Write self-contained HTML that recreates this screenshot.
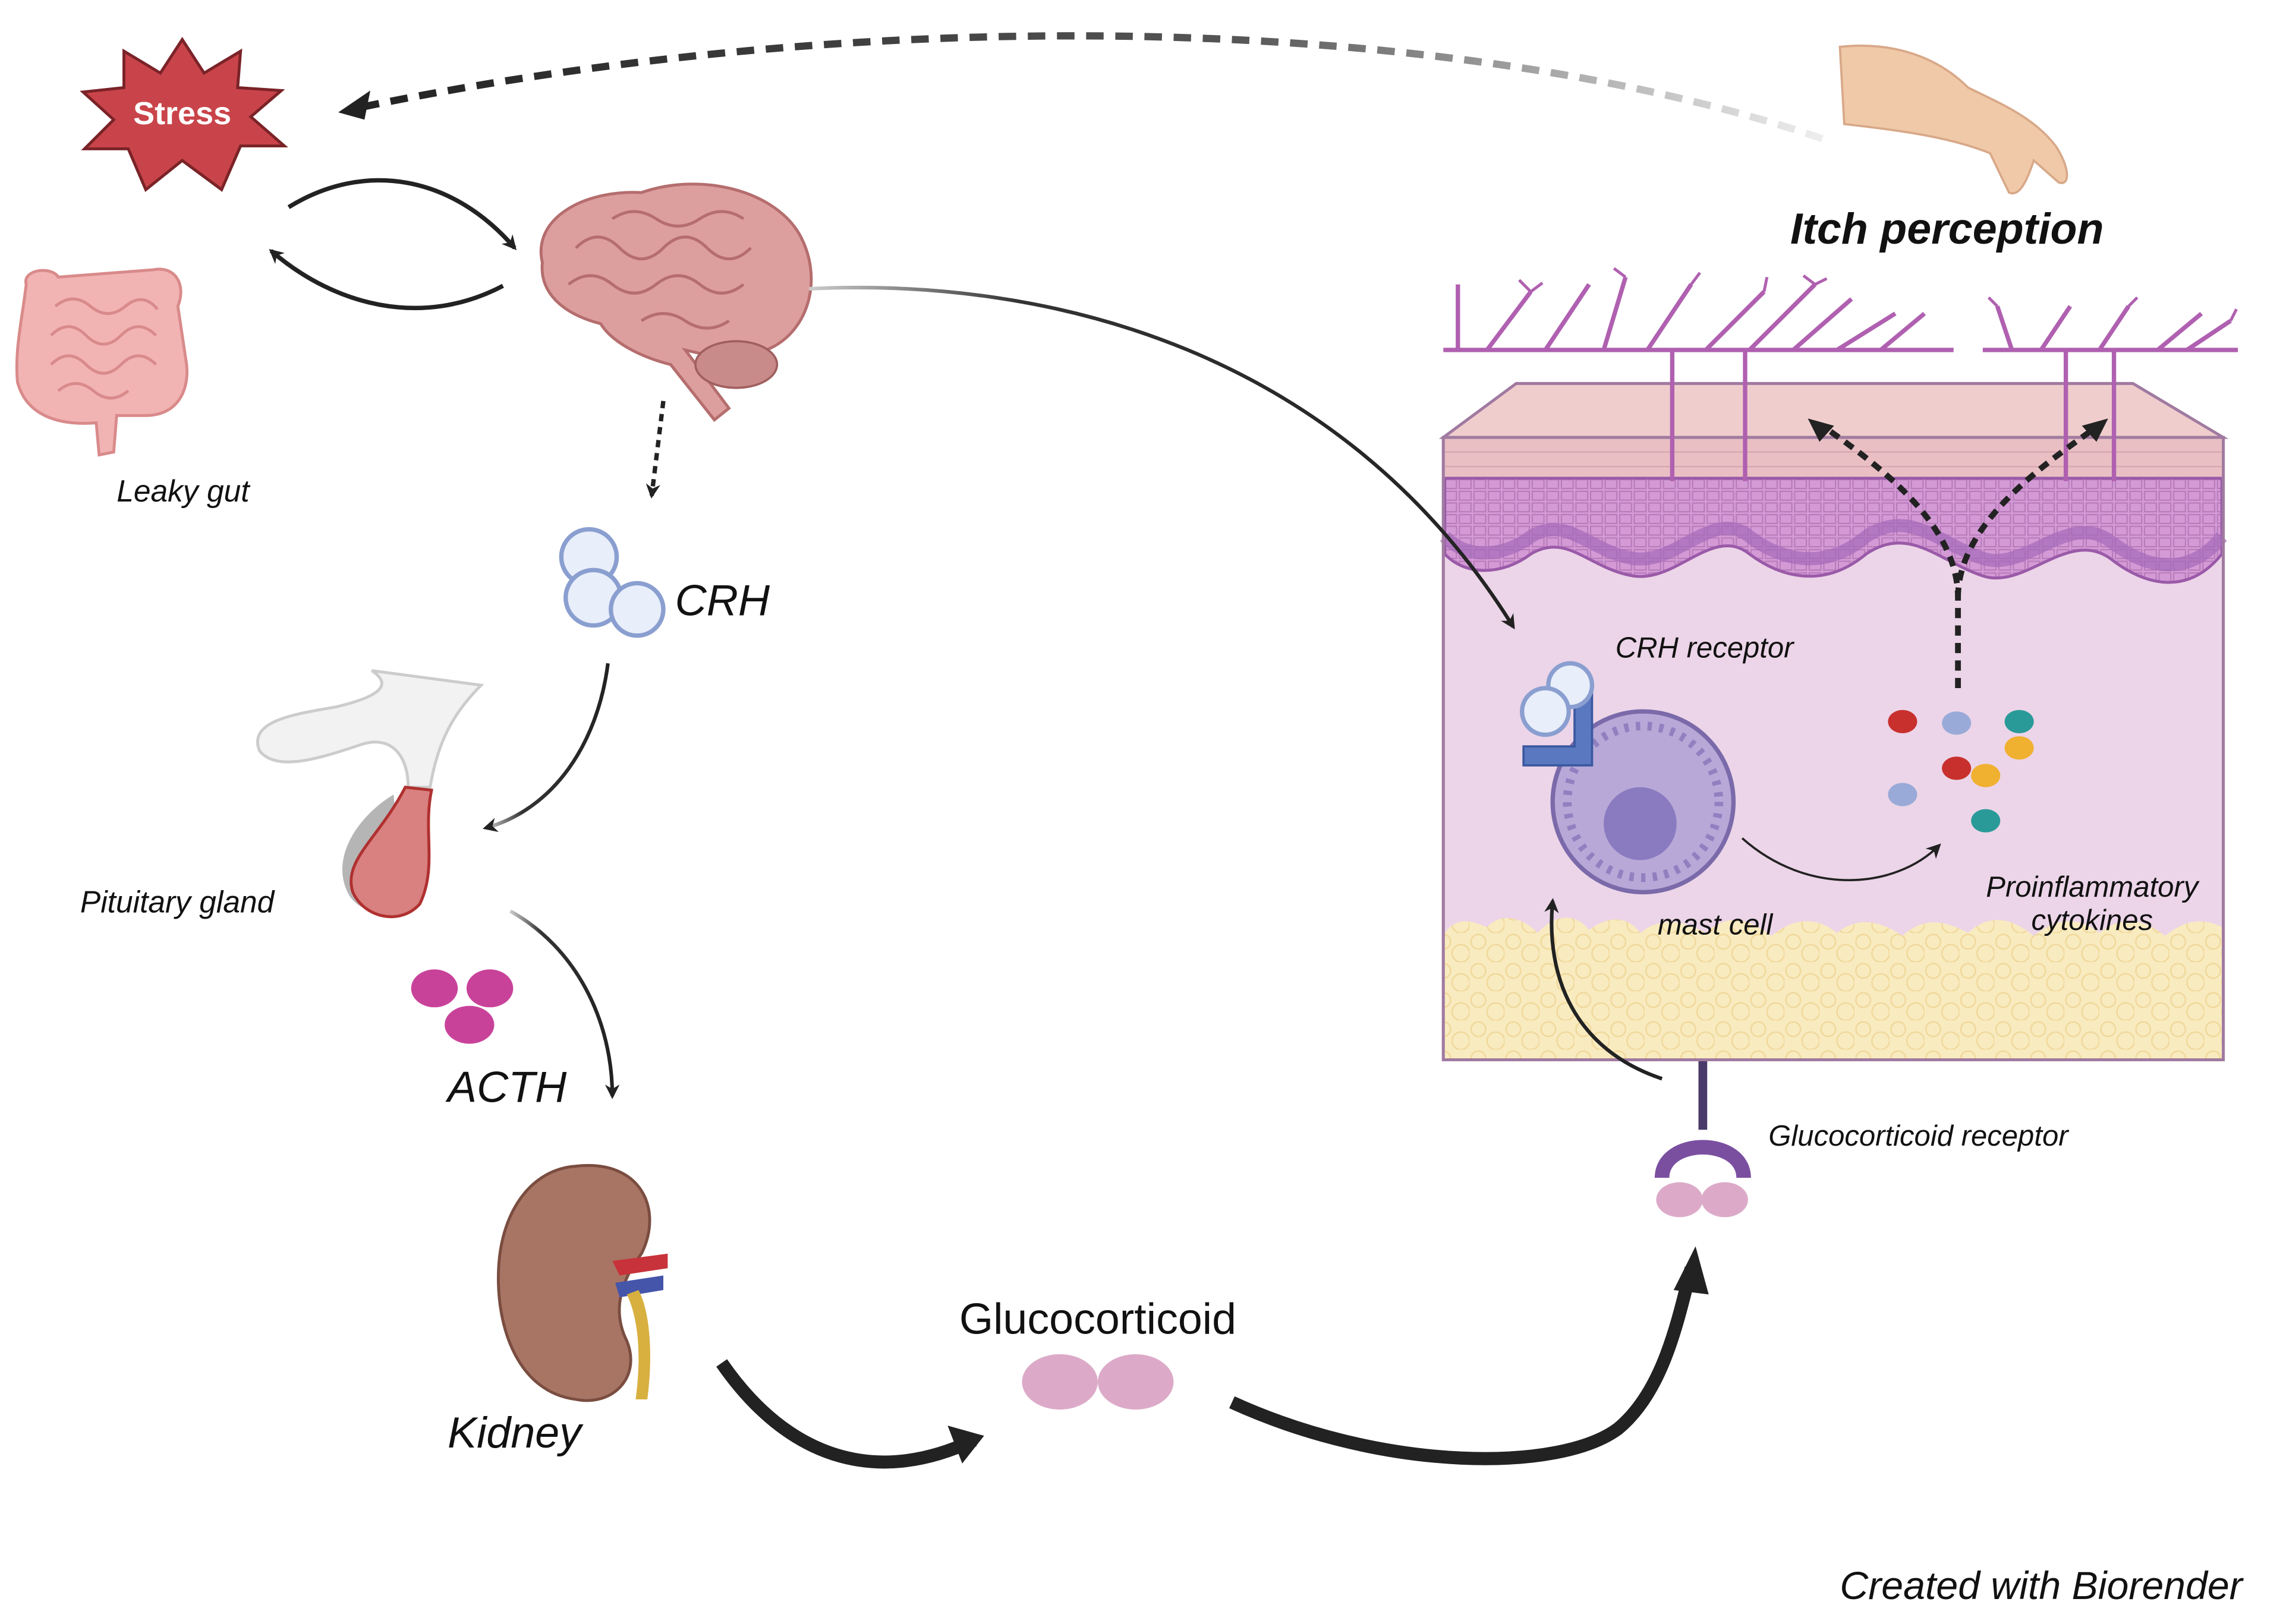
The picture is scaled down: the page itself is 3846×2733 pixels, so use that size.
<!DOCTYPE html>
<html><head><meta charset="utf-8"><style>
html,body{margin:0;padding:0;background:#fff;}
svg{display:block;}
text{font-family:"Liberation Sans",sans-serif;}
</style></head><body>
<svg width="3846" height="2733" viewBox="0 0 1568 1114" xmlns="http://www.w3.org/2000/svg">
<defs>
<marker id="ah" markerWidth="10" markerHeight="10" refX="8" refY="5" orient="auto" markerUnits="userSpaceOnUse"><path d="M0,0 L10,5 L0,10 L3,5z" fill="#222"/></marker>
<linearGradient id="fade" x1="0" x2="1"><stop offset="0" stop-color="#222"/><stop offset="0.6" stop-color="#555"/><stop offset="1" stop-color="#eee"/></linearGradient>
<linearGradient id="fade2" x1="0" x2="1"><stop offset="0" stop-color="#ccc"/><stop offset="0.3" stop-color="#333"/><stop offset="1" stop-color="#222"/></linearGradient>
<pattern id="cells" width="10" height="8" patternUnits="userSpaceOnUse"><rect width="10" height="8" fill="#d49ad6"/><rect x="1" y="1" width="8" height="6" fill="none" stroke="#b57ab8" stroke-width="0.8"/></pattern>
<pattern id="fat" width="24" height="20" patternUnits="userSpaceOnUse"><rect width="24" height="20" fill="#f9ebc0"/><circle cx="6" cy="6" r="5" fill="none" stroke="#f0d89a" stroke-width="1"/><circle cx="18" cy="14" r="6" fill="none" stroke="#f0d89a" stroke-width="1"/></pattern>
</defs>
<rect width="1568" height="1114" fill="#fff"/>

<path d="M1250,95 C1000,10 600,0 240,75" fill="none" stroke="url(#fade)" stroke-width="5" stroke-dasharray="12,8"/>
<path d="M232,77 L254,62 L250,82z" fill="#222"/>

<polygon points="125,27 140,50 165,35 163,60 193,62 172,80 195,100 165,100 152,130 125,110 100,130 88,102 58,102 78,82 57,63 85,60 85,35 110,50" fill="#c9444a" stroke="#7a2328" stroke-width="2"/>
<text x="125" y="85" font-size="22" font-weight="bold" fill="#fff" text-anchor="middle">Stress</text>

<path d="M198,142 C250,110 310,120 353,170" fill="none" stroke="#222" stroke-width="3" marker-end="url(#ah)"/>
<path d="M345,196 C290,225 230,210 186,172" fill="none" stroke="#222" stroke-width="3" marker-end="url(#ah)"/>

<g>
<path d="M18,195 C15,185 35,182 40,190 L105,185 C120,182 128,195 122,210 L128,250 C130,270 120,285 100,285 L80,285 L78,310 L68,312 L66,290 C40,292 18,285 12,262 C10,240 15,220 18,195z" fill="#f2b3b3" stroke="#d98a8a" stroke-width="2"/>
<path d="M38,210 q12,-10 24,0 q12,10 24,0 q12,-10 22,2 M35,230 q12,-12 24,0 q12,12 24,0 q12,-12 24,0 M35,250 q12,-12 24,0 q12,12 24,0 q12,-12 24,0 M40,268 q12,-10 24,0 q12,10 24,0" fill="none" stroke="#d98a8a" stroke-width="2"/>
</g>
<text x="80" y="344" font-size="21" font-style="italic" fill="#111">Leaky gut</text>

<path d="M372,180 C365,150 400,130 440,132 C480,118 530,130 548,160 C565,190 555,225 530,238 C510,248 490,245 470,240 L500,280 L490,288 L460,250 C440,245 420,235 412,222 C385,215 370,200 372,180z" fill="#dd9e9e" stroke="#b56d6d" stroke-width="2"/>
<path d="M395,170 q15,-15 30,0 q15,15 30,0 q15,-15 30,0 q15,15 30,0 M390,195 q15,-12 30,0 q15,12 30,0 q15,-12 30,0 q15,12 30,0 M420,150 q15,-10 30,0 q15,10 30,0 q15,-10 30,0 M440,220 q15,-10 30,0 q15,10 30,0" fill="none" stroke="#b56d6d" stroke-width="2"/>
<ellipse cx="505" cy="250" rx="28" ry="16" fill="#c98a8a" stroke="#a05f5f" stroke-width="1.5"/>

<path d="M455,275 L447,340" fill="none" stroke="#222" stroke-width="3" stroke-dasharray="5,4" marker-end="url(#ah)"/>

<g fill="#e8eefa" stroke="#8a9fd0" stroke-width="3">
<circle cx="404" cy="382" r="19"/><circle cx="407" cy="410" r="19"/><circle cx="437" cy="418" r="18"/>
</g>
<text x="463" y="422" font-size="30" font-style="italic" fill="#111">CRH</text>
<path d="M417,455 C410,510 380,555 333,568" fill="none" stroke="url(#fade2)" stroke-width="2.5" marker-end="url(#ah)"/>

<path d="M178,515 C170,495 200,490 230,485 C260,478 270,470 255,460 L330,470 C310,490 300,510 295,540 L280,540 C280,520 270,505 250,510 C220,520 190,530 178,515z" fill="#f2f2f2" stroke="#ccc" stroke-width="2"/>
<path d="M270,545 C245,560 225,590 240,615 C255,635 280,620 275,600z" fill="#b5b5b5"/>
<path d="M278,540 L296,542 C290,570 300,595 288,620 C275,635 250,630 242,612 C235,590 260,575 278,540z" fill="#d98080" stroke="#b03030" stroke-width="2"/>
<text x="55" y="626" font-size="21" font-style="italic" fill="#111">Pituitary gland</text>
<path d="M350,625 C395,650 420,700 420,752" fill="none" stroke="url(#fade2)" stroke-width="2.5" marker-end="url(#ah)"/>

<g fill="#c9429a"><ellipse cx="298" cy="678" rx="16" ry="13"/><ellipse cx="336" cy="678" rx="16" ry="13"/><ellipse cx="322" cy="703" rx="17" ry="13"/></g>
<text x="307" y="756" font-size="30" font-style="italic" fill="#111">ACTH</text>

<path d="M395,800 C440,795 455,830 440,860 C425,880 420,900 430,920 C440,945 420,965 395,960 C355,955 340,910 342,870 C344,830 365,802 395,800z" fill="#a87565" stroke="#7a4d40" stroke-width="2"/>
<path d="M420,865 L458,860 L458,870 L425,875z" fill="#c8323a"/>
<path d="M422,880 L455,875 L455,885 L425,890z" fill="#4455aa"/>
<path d="M430,888 C438,905 440,930 436,960 L444,960 C448,930 446,900 438,885z" fill="#d8b040"/>
<text x="307" y="993" font-size="30" font-style="italic" fill="#111">Kidney</text>

<path d="M495,935 C540,1000 600,1020 668,988" fill="none" stroke="#222" stroke-width="9"/>
<path d="M675,985 L650,978 L660,1004z" fill="#222"/>
<text x="753" y="915" font-size="30" fill="#111" text-anchor="middle">Glucocorticoid</text>
<ellipse cx="727" cy="948" rx="26" ry="19" fill="#dcaac8"/><ellipse cx="779" cy="948" rx="26" ry="19" fill="#dcaac8"/>
<path d="M845,962 C950,1010 1070,1010 1110,980 C1140,955 1150,910 1160,870" fill="none" stroke="#222" stroke-width="9"/>
<path d="M1163,855 L1148,885 L1172,888z" fill="#222"/>

<line x1="1168" y1="688" x2="1168" y2="775" stroke="#4a3a6a" stroke-width="6"/>
<path d="M1140,808 C1140,780 1196,780 1196,808" fill="none" stroke="#7a4fa0" stroke-width="10"/>
<ellipse cx="1152" cy="823" rx="16" ry="12" fill="#dcaac8"/><ellipse cx="1183" cy="823" rx="16" ry="12" fill="#dcaac8"/>
<text x="1213" y="786" font-size="20" font-style="italic" fill="#111">Glucocorticoid receptor</text>

<!-- Skin block -->
<rect x="990" y="300" width="535" height="427" fill="#ecd5e8" stroke="#a07aa0" stroke-width="2"/>
<polygon points="990,300 1040,263 1463,263 1525,300" fill="#f0cdcd" stroke="#a07aa0" stroke-width="2"/>
<rect x="991" y="300" width="533" height="28" fill="#e9bfc4"/>
<line x1="991" y1="310" x2="1524" y2="310" stroke="#d8a8b0"/><line x1="991" y1="320" x2="1524" y2="320" stroke="#d8a8b0"/>
<path d="M991,328 L1524,328 L1524,380 C1500,410 1470,400 1450,385 C1420,360 1390,405 1360,395 C1330,385 1310,360 1280,380 C1250,405 1220,395 1200,380 C1175,360 1150,400 1120,395 C1090,390 1075,365 1050,380 C1030,395 1005,395 991,380z" fill="url(#cells)" stroke="#9a5aa8" stroke-width="2"/>
<path d="M991,368 C1005,383 1030,383 1050,368 C1075,353 1090,378 1120,383 C1150,388 1175,348 1200,368 C1220,383 1250,393 1280,368 C1310,348 1330,373 1360,383 C1390,393 1420,348 1450,373 C1470,388 1500,398 1524,368" fill="none" stroke="#a46ab8" stroke-width="9" opacity="0.7"/>
<path d="M991,640 C1000,628 1010,632 1020,636 C1030,625 1045,630 1055,640 C1065,628 1080,625 1090,638 C1100,630 1115,626 1125,640 C1140,628 1155,632 1170,640 C1185,626 1200,630 1215,642 C1230,630 1245,628 1260,640 C1275,628 1290,632 1305,642 C1320,628 1335,632 1350,640 C1365,626 1380,630 1395,642 C1410,630 1425,628 1440,640 C1455,628 1470,630 1485,642 C1500,630 1512,630 1524,636 L1524,727 L991,727z" fill="url(#fat)"/>
<rect x="990" y="300" width="535" height="427" fill="none" stroke="#a07aa0" stroke-width="2"/>

<g fill="none" stroke="#b060b0" stroke-width="3">
<path d="M990,240 L1340,240 M1360,240 L1535,240"/>
<path d="M1147,240 L1147,330 M1197,240 L1197,330 M1417,240 L1417,330 M1450,240 L1450,330"/>
<path d="M1000,240 L1000,195 M1020,240 L1050,200 M1060,240 L1090,195 M1100,240 L1115,190 M1130,240 L1160,195 M1170,240 L1210,200 M1200,240 L1245,195 M1230,240 L1270,205 M1260,240 L1300,215 M1290,240 L1320,215 M1380,240 L1370,210 M1400,240 L1420,210 M1440,240 L1460,210 M1480,240 L1510,215 M1500,240 L1530,220"/>
<path d="M1050,200 l-8,-8 M1050,200 l8,-6 M1115,190 l-8,-6 M1160,195 l6,-8 M1245,195 l-8,-6 M1245,195 l8,-4 M1210,200 l2,-10 M1370,210 l-6,-6 M1460,210 l6,-6 M1530,220 l4,-8" stroke-width="2"/>
</g>

<path d="M555,198 C720,190 920,240 1038,430" fill="none" stroke="url(#fade2)" stroke-width="2.5" marker-end="url(#ah)"/>

<path d="M1343,472 L1343,410 C1343,360 1290,320 1250,292" fill="none" stroke="#222" stroke-width="4" stroke-dasharray="7,5"/>
<path d="M1343,410 C1343,360 1400,320 1435,295" fill="none" stroke="#222" stroke-width="4" stroke-dasharray="7,5"/>
<path d="M1240,287 L1258,292 L1248,303z" fill="#222"/>
<path d="M1446,287 L1428,292 L1438,303z" fill="#222"/>

<circle cx="1127" cy="550" r="62" fill="#b8a8d8" stroke="#7a6aaa" stroke-width="3"/>
<circle cx="1127" cy="550" r="52" fill="none" stroke="#9080c0" stroke-width="6" stroke-dasharray="3,5"/>
<circle cx="1125" cy="565" r="25" fill="#8a7ac0"/>
<path d="M1045,512 L1080,512 L1080,470 L1092,470 L1092,525 L1045,525z" fill="#5a78c0" stroke="#3a58a0" stroke-width="1.5"/>
<g fill="#e8eefa" stroke="#8a9fd0" stroke-width="3"><circle cx="1077" cy="470" r="15"/><circle cx="1060" cy="488" r="16"/></g>
<text x="1108" y="451" font-size="20" font-style="italic" fill="#111">CRH receptor</text>
<text x="1137" y="641" font-size="20" font-style="italic" fill="#111">mast cell</text>
<path d="M1195,575 C1240,615 1300,610 1330,580" fill="none" stroke="#222" stroke-width="1.5" marker-end="url(#ah)"/>
<path d="M1140,740 C1080,720 1060,670 1065,618" fill="none" stroke="#222" stroke-width="2.5" marker-end="url(#ah)"/>

<g>
<ellipse cx="1305" cy="495" rx="10" ry="8" fill="#c8302e"/>
<ellipse cx="1342" cy="496" rx="10" ry="8" fill="#9aaad8"/>
<ellipse cx="1385" cy="495" rx="10" ry="8" fill="#2a9a98"/>
<ellipse cx="1385" cy="513" rx="10" ry="8" fill="#f0b030"/>
<ellipse cx="1342" cy="527" rx="10" ry="8" fill="#c8302e"/>
<ellipse cx="1362" cy="532" rx="10" ry="8" fill="#f0b030"/>
<ellipse cx="1305" cy="545" rx="10" ry="8" fill="#9aaad8"/>
<ellipse cx="1362" cy="563" rx="10" ry="8" fill="#2a9a98"/>
</g>
<text x="1435" y="615" font-size="20" font-style="italic" fill="#111" text-anchor="middle">Proinflammatory</text>
<text x="1435" y="638" font-size="20" font-style="italic" fill="#111" text-anchor="middle">cytokines</text>

<path d="M1262,32 C1300,28 1330,40 1350,60 C1370,70 1395,80 1410,100 C1420,115 1420,128 1412,125 L1395,110 C1390,125 1385,135 1378,132 L1365,105 C1340,95 1310,90 1265,85z" fill="#efc9a8" stroke="#d8a888" stroke-width="1.5"/>
<text x="1228" y="167" font-size="30" font-weight="bold" font-style="italic" fill="#111">Itch perception</text>

<text x="1262" y="1097" font-size="27" font-style="italic" fill="#111">Created with Biorender</text>
</svg>
</body></html>
